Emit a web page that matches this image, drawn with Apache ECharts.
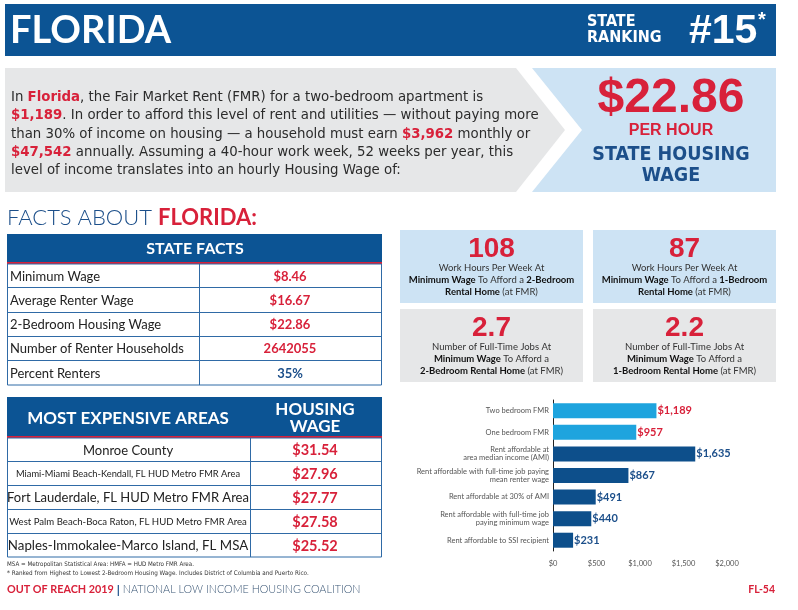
<!DOCTYPE html>
<html><head><meta charset="utf-8">
<script src="https://cdn.jsdelivr.net/npm/echarts@6/dist/echarts.min.js"></script>
<style>html,body{margin:0;padding:0;background:#fff}#c{width:798px;height:610px}</style>
</head><body><div id="c"></div>
<script>
// ---------- DATA ----------
const stateName = 'FLORIDA';
const stateRank = '#15';
const housingWage = '$22.86';
const introLines = [
  'In {r|Florida}, the Fair Market Rent (FMR) for a two-bedroom apartment is',
  '{r|$1,189}. In order to afford this level of rent and utilities — without paying more',
  'than 30% of income on housing — a household must earn {r|$3,962} monthly or',
  '{r|$47,542} annually. Assuming a 40-hour work week, 52 weeks per year, this',
  'level of income translates into an hourly Housing Wage of:'
];
const factLabels = ['Minimum Wage','Average Renter Wage','2-Bedroom Housing Wage','Number of Renter Households','Percent Renters'];
const factValues = ['$8.46','$16.67','$22.86','2642055','35%'];
const areaNames = ['Monroe County','Miami-Miami Beach-Kendall, FL HUD Metro FMR Area','Fort Lauderdale, FL HUD Metro FMR Area','West Palm Beach-Boca Raton, FL HUD Metro FMR Area','Naples-Immokalee-Marco Island, FL MSA'];
const areaWages = ['$31.54','$27.96','$27.77','$27.58','$25.52'];
const boxNumbers = ['108','87','2.7','2.2'];
const boxTexts = [
  ['Work Hours Per Week At','{b|Minimum Wage} To Afford a {b|2-Bedroom}','{b|Rental Home} (at FMR)'],
  ['Work Hours Per Week At','{b|Minimum Wage} To Afford a {b|1-Bedroom}','{b|Rental Home} (at FMR)'],
  ['Number of Full-Time Jobs At','{b|Minimum Wage} To Afford a','{b|2-Bedroom Rental Home} (at FMR)'],
  ['Number of Full-Time Jobs At','{b|Minimum Wage} To Afford a','{b|1-Bedroom Rental Home} (at FMR)']
];
const rentCategories = ['Two bedroom FMR','One bedroom FMR','Rent affordable at\narea median income (AMI)','Rent affordable with full-time job paying\nmean renter wage','Rent affordable at 30% of AMI','Rent affordable with full-time job\npaying minimum wage','Rent affordable to SSI recipient'];
const rentValues = [1189,957,1635,867,491,440,231];
const rentIsFMR = [true,true,false,false,false,false,false];
const xTicks = [0,500,1000,1500,2000];
const footnotes = ['MSA = Metropolitan Statistical Area: HMFA = HUD Metro FMR Area.','* Ranked from Highest to Lowest 2-Bedroom Housing Wage. Includes District of Columbia and Puerto Rico.'];

// ---------- STYLE ----------
const BLUE = '#0c5494', RED = '#d8213a', TXTBLUE = '#1c4f8a', LBLUE = '#cde3f4', GRAY = '#e6e7e8', BORDER = '#2f6aa6';
const LIGHTBAR = '#1ea4de', DARKBAR = '#0d4f8b';
const NARROW = '"Liberation Sans Narrow","DejaVu Sans Condensed","Liberation Sans",sans-serif';
const ARIAL = '"Liberation Sans",Arial,sans-serif';
const GEO = 'Lato,"Noto Sans",sans-serif';

function T(x, y, text, o) {
  o = o || {};
  const st = Object.assign({
    text: text, fill: o.fill || '#222', fontSize: o.size || 12, fontFamily: o.family || GEO,
    fontWeight: o.weight || 'normal', align: o.align || 'left', verticalAlign: 'middle',
    textAlign: o.align || 'left', textVerticalAlign: 'middle'
  }, o.rich ? {rich: o.rich} : {});
  return {type: 'text', x: x, y: y, z: 10, style: st, silent: true};
}
function R(x, y, w, h, fill, stroke, lw) {
  return {type: 'rect', shape: {x: x, y: y, width: w, height: h}, style: {fill: fill || 'none', stroke: stroke || null, lineWidth: lw || 0}, silent: true};
}
function L(x1, y1, x2, y2, c, lw) {
  return {type: 'line', shape: {x1: x1, y1: y1, x2: x2, y2: y2}, style: {stroke: c, lineWidth: lw || 1}, silent: true};
}

const g = [];
// header bar
g.push(R(5, 4, 771, 52, BLUE));
g.push(T(10, 31, stateName, {fill: '#fff', size: 38, weight: 'bold', family: GEO}));
g.push(T(587, 22, 'STATE', {fill: '#fff', size: 16, weight: 'bold', family: NARROW}));
g.push(T(587, 38, 'RANKING', {fill: '#fff', size: 16, weight: 'bold', family: NARROW}));
g.push(T(689, 32, stateRank, {fill: '#fff', size: 41, weight: 'bold', family: ARIAL}));
g.push(T(758, 20, '*', {fill: '#fff', size: 20, weight: 'bold', family: ARIAL}));

// intro chevrons
g.push({type: 'polygon', shape: {points: [[5,68],[516,68],[565,130],[516,192],[5,192]]}, style: {fill: GRAY}, silent: true});
g.push({type: 'polygon', shape: {points: [[532,68],[776,68],[776,192],[532,192],[582,130]]}, style: {fill: LBLUE}, silent: true});
const introY = [97, 115.5, 134, 152, 170.5];
introLines.forEach((ln, i) => g.push(T(11, introY[i], ln, {fill: '#2b2b2b', size: 14.8, family: NARROW, rich: {r: {fill: RED, color: RED, fontWeight: 'bold', fontSize: 14.8, fontFamily: NARROW}}})));
g.push(T(671, 99, housingWage, {fill: RED, size: 48, weight: 'bold', family: ARIAL, align: 'center'}));
g.push(T(671, 131, 'PER HOUR', {fill: RED, size: 16, weight: 'bold', family: ARIAL, align: 'center'}));
g.push(T(671, 155, 'STATE HOUSING', {fill: TXTBLUE, size: 19.5, weight: 'bold', family: NARROW, align: 'center'}));
g.push(T(671, 176, 'WAGE', {fill: TXTBLUE, size: 19.5, weight: 'bold', family: NARROW, align: 'center'}));

// facts title
g.push(T(7, 218, 'FACTS ABOUT {r|FLORIDA:}', {fill: TXTBLUE, size: 22, weight: 300, family: GEO, rich: {r: {fill: RED, color: RED, fontWeight: 'bold', fontSize: 22, fontFamily: GEO}}}));

// state facts table
g.push(R(7, 234, 375, 28, BLUE));
g.push(L(7, 263, 382, 263, RED, 2));
g.push(T(195, 249, 'STATE FACTS', {fill: '#fff', size: 16, weight: 'bold', family: GEO, align: 'center'}));
const factEdges = [264, 287, 312, 336, 360, 385];
g.push(R(7.5, 264, 374, 121, null, BORDER, 1));
for (let i = 1; i < 5; i++) g.push(L(7, factEdges[i] + 0.5, 382, factEdges[i] + 0.5, BORDER, 1));
g.push(L(199.5, 264, 199.5, 385, BORDER, 1));
factLabels.forEach((lab, i) => {
  const cy = (factEdges[i] + factEdges[i + 1]) / 2 + 1;
  g.push(T(10, cy, lab, {fill: '#222', size: 13, family: GEO}));
  g.push(T(290, cy, factValues[i], {fill: i === 4 ? TXTBLUE : RED, size: 13, weight: 'bold', family: GEO, align: 'center'}));
});

// four stat boxes
const boxes = [[400,230,LBLUE],[593,230,LBLUE],[400,309,GRAY],[593,309,GRAY]];
boxes.forEach((b, i) => {
  g.push(R(b[0], b[1], 183, 73, b[2]));
  const cx = b[0] + 91.5;
  g.push(T(cx, b[1] + 19, boxNumbers[i], {fill: RED, size: 28, weight: 'bold', family: ARIAL, align: 'center'}));
  boxTexts[i].forEach((ln, k) => g.push(T(cx, b[1] + 38 + k * 11.8, ln, {fill: '#333', size: 9.5, family: GEO, align: 'center', rich: {b: {fill: '#111', color: '#111', fontWeight: 'bold', fontSize: 9.5, fontFamily: GEO}}})));
});

// most expensive areas table
g.push(R(7, 397, 375, 39, BLUE));
g.push(L(7, 437, 382, 437, RED, 2));
g.push(T(128, 419, 'MOST EXPENSIVE AREAS', {fill: '#fff', size: 17, weight: 'bold', family: GEO, align: 'center'}));
g.push(T(315, 410, 'HOUSING', {fill: '#fff', size: 17, weight: 'bold', family: GEO, align: 'center'}));
g.push(T(315, 427, 'WAGE', {fill: '#fff', size: 17, weight: 'bold', family: GEO, align: 'center'}));
const areaEdges = [438, 461, 485, 509, 533, 557];
const areaSizes = [13, 9.3, 13, 9.6, 13.3];
g.push(R(7.5, 438, 374, 119, null, BORDER, 1));
for (let i = 1; i < 5; i++) g.push(L(7, areaEdges[i] + 0.5, 382, areaEdges[i] + 0.5, BORDER, 1));
g.push(L(250.5, 438, 250.5, 557, BORDER, 1));
areaNames.forEach((n, i) => {
  const cy = (areaEdges[i] + areaEdges[i + 1]) / 2 + 1;
  g.push(T(128, cy, n, {fill: '#222', size: areaSizes[i], family: GEO, align: 'center'}));
  g.push(T(315, cy, areaWages[i], {fill: RED, size: 14.5, weight: 'bold', family: GEO, align: 'center'}));
});
g.push(T(7, 564, footnotes[0], {fill: '#333', size: 6.2, family: NARROW}));
g.push(T(7, 573, footnotes[1], {fill: '#333', size: 6.3, family: NARROW}));
g.push(T(7, 590, '{r|OUT OF REACH 2019} {p||} NATIONAL LOW INCOME HOUSING COALITION', {fill: '#3a5675', size: 10.8, weight: 300, family: GEO, rich: {r: {fill: RED, color: RED, fontWeight: 'bold', fontSize: 10.8, fontFamily: GEO}, p: {fill: TXTBLUE, color: TXTBLUE, fontWeight: 'bold', fontSize: 12, fontFamily: GEO}}}));
g.push(T(775, 590, 'FL-54', {fill: RED, size: 10.5, weight: 'bold', family: GEO, align: 'right'}));

// ---------- CHART ----------
const chart = echarts.init(document.getElementById('c'), null, {renderer: 'canvas', width: 798, height: 610});
chart.setOption({
  animation: false,
  backgroundColor: '#fff',
  grid: {left: 553, top: 400, width: 174, height: 151, containLabel: false},
  xAxis: {
    type: 'value', min: xTicks[0], max: xTicks[xTicks.length - 1], interval: 500,
    axisLine: {show: false}, axisTick: {show: false}, splitLine: {show: false},
    axisLabel: {color: '#555', fontSize: 7.5, fontFamily: GEO, margin: 9, formatter: v => '$' + v.toLocaleString('en-US')}
  },
  yAxis: {
    type: 'category', inverse: true, data: rentCategories,
    axisLine: {show: true, lineStyle: {color: '#222', width: 1}}, axisTick: {show: false},
    axisLabel: {color: '#555', fontSize: 7.5, lineHeight: 8, fontFamily: GEO, margin: 4, align: 'right'}
  },
  series: [{
    type: 'bar', barWidth: 15,
    data: rentValues.map((v, i) => ({value: v, itemStyle: {color: rentIsFMR[i] ? LIGHTBAR : DARKBAR},
      label: {color: rentIsFMR[i] ? RED : TXTBLUE}})),
    label: {show: true, position: 'right', distance: 1, fontSize: 11, fontWeight: 'bold', fontFamily: GEO,
      formatter: p => '$' + p.value.toLocaleString('en-US')}
  }],
  graphic: {elements: g}
});
</script></body></html>
